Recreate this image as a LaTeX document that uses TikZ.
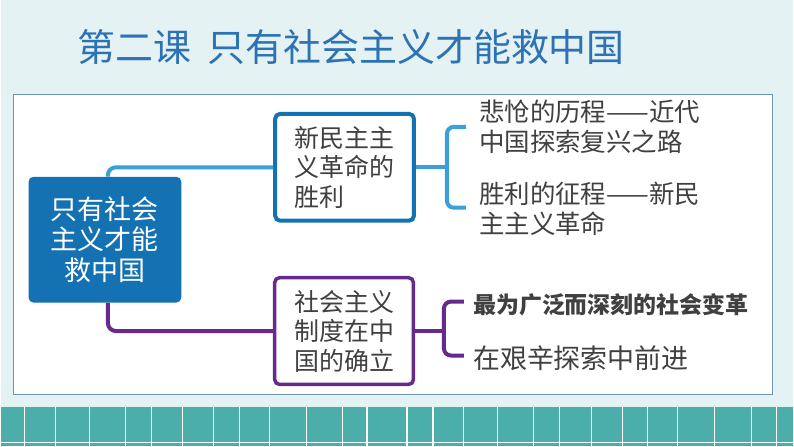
\documentclass[tikz,border=0pt]{standalone}
\usepackage{fontspec}
\newfontfamily\cjk{Noto Sans CJK SC}
\usetikzlibrary{positioning}
\definecolor{bgcyan}{RGB}{229,242,244}
\definecolor{tilegreen}{RGB}{76,174,170}
\definecolor{titleblue}{RGB}{44,114,180}
\definecolor{mainblue}{RGB}{20,113,178}
\definecolor{lineblue}{RGB}{58,160,218}
\definecolor{darkpurple}{RGB}{102,42,140}
\definecolor{textgray}{RGB}{64,64,64}
\definecolor{panelline}{RGB}{110,150,175}

\begin{document}
\begin{tikzpicture}[x=1pt, y=-1pt,
    topic/.style={draw, line width=4pt, rounded corners=5pt, fill=white, align=left, text=textgray,
        font=\cjk\fontsize{25}{29.5}\selectfont, minimum width=139pt, minimum height=107pt, inner sep=0pt},
    item/.style={anchor=west, align=left, inner sep=0pt, text=textgray, font=\cjk\fontsize{25.5}{30}\selectfont},
    conn/.style={line width=4pt, rounded corners=8pt}
]
% background and frame
\fill[bgcyan] (0,0) rectangle (794,447);
\fill[white] (13,95) rectangle (773,395);
\draw[panelline, line width=1pt] (13,95) rectangle (773,395);
\fill[tilegreen] (0,408) rectangle (794,447);
\foreach \x in {24,55,89,125,151,182,213,239,269,306,342,367,407,433,464,498,534,560,592,623,648,678,715,752,777}
  \draw[white, line width=1.1pt] (\x,408) -- (\x,447);
\draw[white, line width=1.1pt] (0,443) -- (794,443);

\node[anchor=west, inner sep=0pt, text=titleblue, font=\cjk\fontsize{38}{40}\selectfont] (title) at (77,47)
    {第二课\hspace{16pt}只有社会主义才能救中国};

% main nodes
\node[fill=mainblue, rounded corners=5pt, minimum width=153pt, minimum height=126pt, inner sep=0pt,
    align=center, text=white, font=\cjk\fontsize{27}{31}\selectfont] (main) at (104.5,240)
    {只有社会\\主义才能\\救中国};
\node[topic, draw=mainblue] (rev) at (344.5,167.5) {新民主主\\义革命的\\胜利};
\node[topic, draw=darkpurple, line width=3.5pt] (sys) at (344,331.5) {社会主义\\制度在中\\国的确立};

\draw[conn, lineblue] ([xshift=3pt]main.north) |- (rev.west);
\draw[conn, darkpurple] ([xshift=3pt]main.south) |- (sys.west);

% upper branch
\coordinate (uj) at (447,167.5);
\coordinate (ua) at (466,127);
\coordinate (ub) at (466,208);
\draw[lineblue, line width=4pt] (rev.east) -- (uj);
\draw[lineblue, line width=4pt, rounded corners=7pt] (ua) -| (uj) |- (ub);
\node[item] (past) at (479,127) {悲怆的历程——近代\\中国探索复兴之路};
\node[item] (win) at (479,209) {胜利的征程——新民\\主主义革命};

% lower branch
\coordinate (lj) at (444,331.5);
\coordinate (la) at (464,302);
\coordinate (lb) at (464,356);
\draw[darkpurple, line width=4pt] (sys.east) -- (lj);
\draw[darkpurple, line width=4pt, rounded corners=7pt] (la) -| (lj) |- (lb);
\node[item, font=\cjk\bfseries\fontsize{23}{26}\selectfont] (change) at (473,305) {最为广泛而深刻的社会变革};
\node[item, font=\cjk\fontsize{27}{30}\selectfont] (ahead) at (473,359) {在艰辛探索中前进};
\end{tikzpicture}
\end{document}
